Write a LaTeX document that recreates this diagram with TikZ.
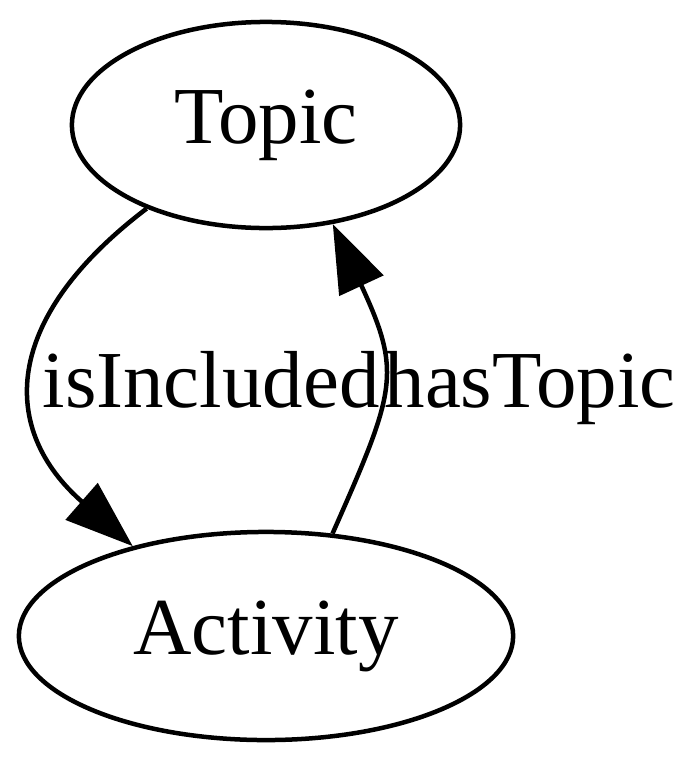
\documentclass[tikz,border=0pt]{standalone}
\usepackage{fontspec}
\setmainfont{Liberation Serif}
\usetikzlibrary{shapes.geometric,arrows.meta}
\begin{document}
\begin{tikzpicture}[
        x=0.01cm, y=-0.01cm,
        concept/.style = {ellipse, draw=black, line width=0.045cm, inner sep=0pt, font=\fontsize{23}{27}\selectfont},
        relation/.style = {font=\fontsize{23}{27}\selectfont, anchor=base, inner sep=0pt},
        link/.style = {line width=0.045cm, -{Triangle[length=0.68cm, width=0.48cm]}}
    ]
    \useasboundingbox (0,0) rectangle (700,763);

    % ================= NODOS =================
    \node[concept, minimum width=3.88cm, minimum height=2.06cm] (topic) at (266,125) {Topic};
    \node[concept, minimum width=4.94cm, minimum height=2.08cm] (activity) at (266,636) {Activity};

    % ================= RELACIONES =================
    \draw[link] (topic.215) .. controls (0,320) and (0,430) .. (activity.146);
    \draw[link] (activity.57) .. controls (396,390) and (402,373) .. (topic.304);

    \node[relation] (isincluded) at (211,407) {isIncluded};
    \node[relation] (hastopic) at (530,407) {hasTopic};
\end{tikzpicture}
\end{document}
